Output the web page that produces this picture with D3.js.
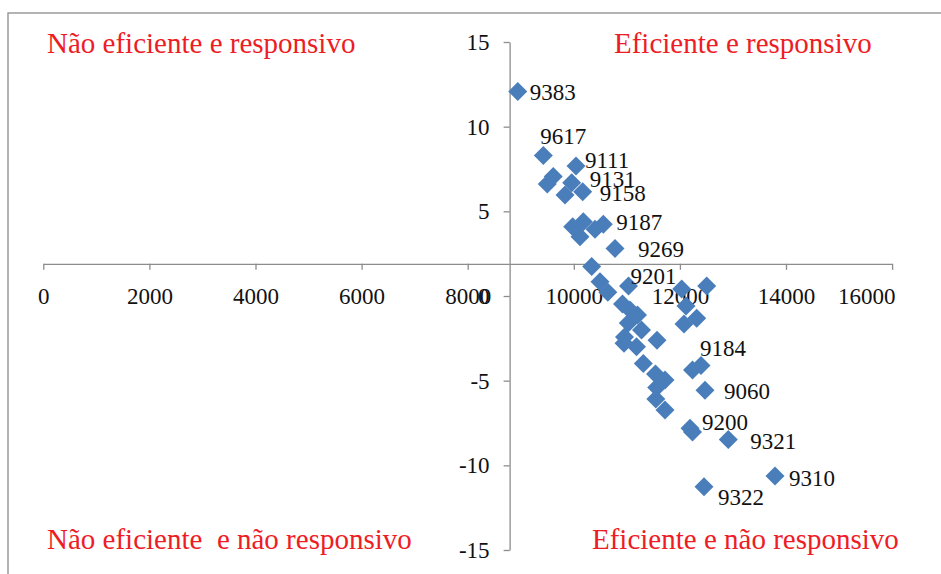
<!DOCTYPE html>
<html><head><meta charset="utf-8">
<script src="https://cdn.jsdelivr.net/npm/d3@7/dist/d3.min.js"></script>
<style>body{margin:0;background:#fff}svg{display:block}</style>
</head><body>
<svg id="c" width="941" height="574"></svg>
<script>
const xTicks = [0,2000,4000,6000,8000,10000,12000,14000,16000];
const yTicks = [-15,-10,-5,0,5,10,15];
const crossX = 8790, crossY = 1.9;
const pointLabels = ["9383","9617","9111","","","9131","","9158","","","","","9187","9269","","","","9201","","","","","","","","","","","","","","","","9200","","","","","","","","9184","9060","9321","9310","9322"];
const xValues = [8943,9425,10041,9613,9500,9960,9834,10168,9979,10179,10117,10400,10556,10777,10337,10494,10641,11031,10918,11059,11201,11027,11276,10956,10946,11568,11182,11310,11540,11719,11563,11546,11719,12190,12237,12034,12505,12115,12077,12317,12237,12398,12473,12912,13793,12454];
const yValues = [12.07,8.29,7.68,7.05,6.62,6.69,5.97,6.16,4.09,4.39,3.50,3.94,4.24,2.81,1.74,0.84,0.22,0.59,-0.47,-0.83,-1.12,-1.59,-2.01,-2.42,-2.79,-2.62,-2.99,-3.99,-4.61,-4.96,-5.40,-6.08,-6.73,-7.81,-8.03,0.41,0.59,-0.59,-1.65,-1.32,-4.37,-4.11,-5.57,-8.48,-10.63,-11.26];
const quadrantTitles = ["Não eficiente e responsivo","Eficiente e responsivo","Não eficiente  e não responsivo","Eficiente e não responsivo"];

// label placement (layout only)
const labelOffset = {"9383":[12,0],"9617":[-3,-20],"9111":[9,-6],"9131":[18,-4],"9158":[17,1],"9187":[13,-2],"9269":[23,1],"9201":[2,-10],"9184":[-1,-18],"9060":[19,1],"9200":[12,-6],"9321":[22,1],"9310":[14,2],"9322":[14,10]};

const svg = d3.select("#c");
const font = "'Liberation Serif','Times New Roman',serif";
const axisColor = "#8c8c8c";

svg.append("rect").attr("x",8).attr("y",13).attr("width",1000).attr("height",1000)
  .attr("fill","none").attr("stroke",axisColor).attr("stroke-width",1.3);

const x = d3.scaleLinear().domain([0,16000]).range([43.3,892.1]);
const y = d3.scaleLinear().domain([-15,15]).range([550,42]);

const gx = svg.append("g").attr("transform",`translate(0,${y(crossY)})`)
  .call(d3.axisBottom(x).tickValues(xTicks).tickFormat(d3.format("d")).tickSize(6).tickSizeOuter(0).tickPadding(18));
const gy = svg.append("g").attr("transform",`translate(${x(crossX)},0)`)
  .call(d3.axisLeft(y).tickValues(yTicks).tickFormat(d3.format("d")).tickSize(6).tickSizeOuter(0).tickPadding(14));
[gx,gy].forEach(g=>{
  g.select(".domain").attr("stroke",axisColor).attr("stroke-width",1.3);
  g.selectAll(".tick line").attr("stroke",axisColor).attr("stroke-width",1.3);
  g.selectAll(".tick text").attr("fill","#111").style("font-family",font).style("font-size","23px");
});
gy.selectAll(".tick text").text(d=>d<0?"-"+Math.abs(d):d);
// last x label kept inside the plot area (as the reference does)
gx.selectAll(".tick text").filter(d=>d===16000).attr("text-anchor","end").attr("x",895-x(16000));

const pts = xValues.map((v,i)=>({x:v,y:yValues[i],label:pointLabels[i]}));
const r = 9.5;
svg.append("g").selectAll("path").data(pts).join("path")
  .attr("d",d=>{const cx=x(d.x),cy=y(d.y);return `M${cx},${cy-r}L${cx+r},${cy}L${cx},${cy+r}L${cx-r},${cy}Z`;})
  .attr("fill","#4a7ebb");

svg.append("g").selectAll("text").data(pts.filter(d=>d.label)).join("text")
  .attr("x",d=>x(d.x)+labelOffset[d.label][0])
  .attr("y",d=>y(d.y)+labelOffset[d.label][1])
  .attr("dy","0.35em")
  .style("font-family",font).style("font-size","23px").attr("fill","#111")
  .text(d=>d.label);

const qpos = [[47,53],[614,53],[47,549],[592,549]];
svg.append("g").selectAll("text").data(quadrantTitles).join("text")
  .attr("x",(d,i)=>qpos[i][0]).attr("y",(d,i)=>qpos[i][1])
  .style("font-family",font).style("font-size","29px").style("white-space","pre")
  .attr("fill","#ee1c25").text(d=>d);
</script>
</body></html>
